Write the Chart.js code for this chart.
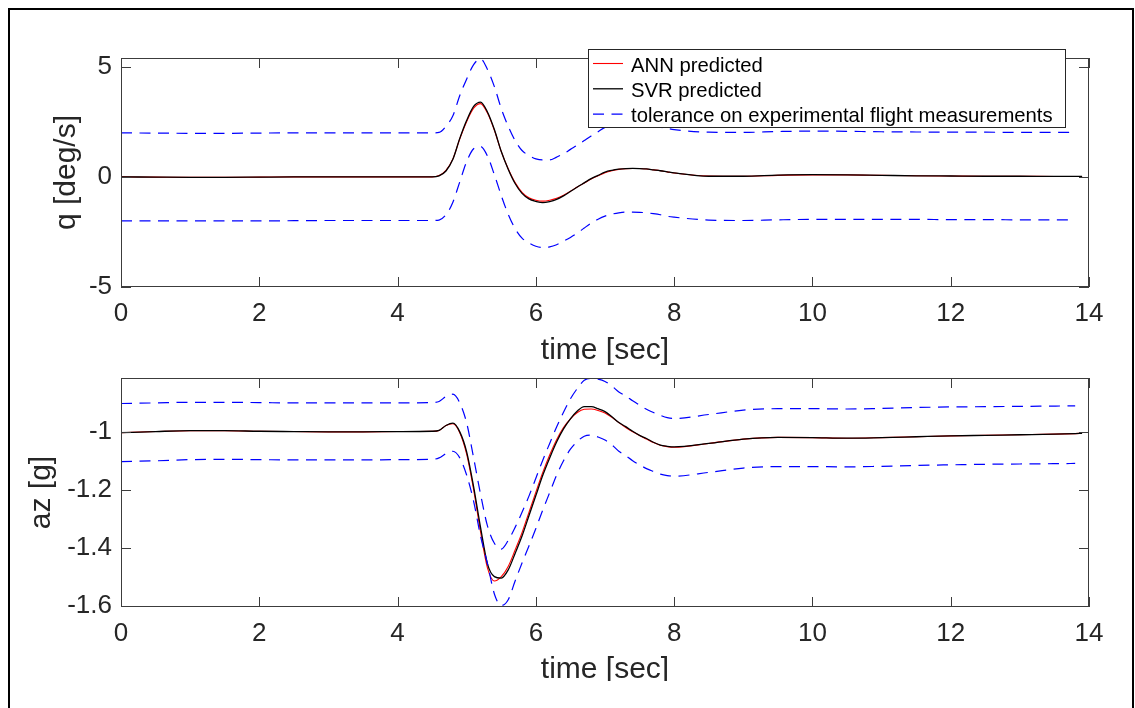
<!DOCTYPE html>
<html>
<head>
<meta charset="utf-8">
<script src="https://cdn.jsdelivr.net/npm/chart.js@4.4.1/dist/chart.umd.min.js"></script>
<style>
  html, body { margin: 0; padding: 0; background: #fff; }
  body { width: 1135px; height: 708px; overflow: hidden; position: relative; }
  canvas { position: absolute; left: 0; }
  #chart-q { top: 0; }
  #chart-az { top: 340px; }
  #frame {
    position: absolute; left: 8px; top: 8px; width: 1126px; height: 760px;
    border: 2.5px solid #000; box-sizing: border-box; pointer-events: none;
  }
</style>
</head>
<body>
<canvas id="chart-q" width="1135" height="370"></canvas>
<canvas id="chart-az" width="1135" height="341"></canvas>
<div id="frame"></div>
<script>
// time [sec]
const time = [0, 0.5, 1, 1.5, 2, 2.5, 3, 3.5, 4, 4.5,
  4.6, 4.7, 4.8, 4.9, 5.0, 5.1, 5.2, 5.3, 5.4, 5.5, 5.6, 5.7, 5.8, 5.9, 6.0, 6.1, 6.2, 6.3, 6.4, 6.5,
  6.6, 6.7, 6.8, 6.9, 7.0, 7.1, 7.2, 7.3, 7.4, 7.5, 7.6, 7.7, 7.8, 7.9, 8.0,
  8.5, 9, 9.5, 10, 10.5, 11, 11.5, 12, 12.5, 13, 13.5, 13.8, 13.9];

// q [deg/s]
const qAnn = [0, -0.01, -0.02, -0.02, -0.01, 0, 0, 0, 0, 0,
  0.06, 0.3, 0.82, 1.73, 2.52, 3.12, 3.33, 2.9, 2.12, 1.15, 0.37, -0.26, -0.7, -0.95, -1.06, -1.1, -1.06, -0.97, -0.83, -0.65,
  -0.46, -0.28, -0.1, 0.05, 0.19, 0.28, 0.34, 0.37, 0.38, 0.38, 0.36, 0.32, 0.28, 0.23, 0.18,
  0.04, 0.03, 0.07, 0.09, 0.09, 0.07, 0.05, 0.04, 0.03, 0.03, 0.02, 0.02, 0.02];
const qSvr = [0, -0.01, -0.02, -0.02, -0.01, 0, 0, 0, 0, 0,
  0.05, 0.27, 0.8, 1.75, 2.57, 3.2, 3.4, 2.95, 2.15, 1.15, 0.35, -0.3, -0.75, -1.0, -1.11, -1.17, -1.12, -1.02, -0.86, -0.66,
  -0.46, -0.27, -0.08, 0.07, 0.22, 0.3, 0.35, 0.38, 0.39, 0.38, 0.36, 0.32, 0.28, 0.23, 0.18,
  0.03, 0.03, 0.08, 0.1, 0.09, 0.07, 0.05, 0.04, 0.03, 0.03, 0.02, 0.02, 0.02];
const qTolUp = [2.0, 1.99, 1.98, 1.98, 1.99, 2.0, 2.0, 2.0, 2.0, 2.0,
  2.02, 2.3, 2.78, 3.7, 4.45, 5.1, 5.36, 4.88, 4.1, 3.1, 2.3, 1.65, 1.2, 0.97, 0.82, 0.77, 0.77, 0.9, 1.05, 1.25,
  1.44, 1.65, 1.86, 2.05, 2.25, 2.32, 2.36, 2.38, 2.39, 2.38, 2.36, 2.32, 2.26, 2.2, 2.15,
  2.03, 2.02, 2.06, 2.08, 2.07, 2.05, 2.04, 2.03, 2.03, 2.02, 2.02, 2.02, null];
const qTolLow = [-2.0, -2.0, -2.0, -2.0, -2.0, -1.99, -1.98, -1.98, -1.98, -1.98,
  -1.96, -1.72, -1.15, -0.22, 0.7, 1.28, 1.38, 0.95, 0.1, -0.85, -1.7, -2.35, -2.78, -3.0, -3.15, -3.21, -3.18, -3.08, -2.92, -2.75,
  -2.55, -2.32, -2.1, -1.92, -1.78, -1.69, -1.63, -1.6, -1.6, -1.61, -1.63, -1.67, -1.72, -1.79, -1.83,
  -1.96, -1.98, -1.95, -1.93, -1.93, -1.93, -1.93, -1.94, -1.94, -1.95, -1.95, -1.95, null];

// az [g]
const azAnn = [-1.003, -0.999, -0.996, -0.996, -0.998, -0.999, -1.0, -1.0, -0.999, -0.998,
  -0.995, -0.978, -0.972, -1.003, -1.078, -1.2, -1.345, -1.47, -1.515, -1.5, -1.465, -1.408, -1.348, -1.278, -1.208, -1.14, -1.08, -1.027, -0.985, -0.955,
  -0.933, -0.922, -0.921, -0.926, -0.935, -0.95, -0.968, -0.985, -1.0, -1.013, -1.025, -1.037, -1.046, -1.051, -1.053,
  -1.04, -1.025, -1.019, -1.02, -1.022, -1.02, -1.017, -1.014, -1.012, -1.01, -1.008, -1.006, -1.005];
const azSvr = [-1.003, -0.999, -0.996, -0.996, -0.998, -0.999, -1.0, -1.0, -0.999, -0.998,
  -0.995, -0.978, -0.97, -1.0, -1.07, -1.19, -1.33, -1.456, -1.5, -1.505, -1.477, -1.42, -1.36, -1.29, -1.22, -1.15, -1.09, -1.035, -0.99, -0.955,
  -0.928, -0.913, -0.913, -0.92, -0.93, -0.948, -0.968, -0.982, -0.998, -1.012, -1.023, -1.036, -1.046, -1.05, -1.052,
  -1.04, -1.025, -1.019, -1.02, -1.022, -1.02, -1.017, -1.014, -1.012, -1.01, -1.008, -1.006, -1.005];
const azTolUp = [-0.902, -0.9, -0.898, -0.898, -0.899, -0.9, -0.9, -0.9, -0.9, -0.899,
  -0.895, -0.878, -0.87, -0.9, -0.97, -1.09, -1.215, -1.325, -1.385, -1.405, -1.375, -1.33, -1.278, -1.222, -1.16, -1.098, -1.04, -0.983, -0.932, -0.886,
  -0.85, -0.822, -0.815, -0.818, -0.826, -0.842, -0.862, -0.876, -0.893, -0.908, -0.922, -0.933, -0.943, -0.951, -0.954,
  -0.94, -0.925, -0.92, -0.92, -0.921, -0.919, -0.916, -0.914, -0.913, -0.912, -0.911, -0.91, null];
const azTolLow = [-1.103, -1.1, -1.096, -1.095, -1.096, -1.097, -1.097, -1.097, -1.096, -1.095,
  -1.09, -1.075, -1.067, -1.09, -1.15, -1.24, -1.36, -1.455, -1.56, -1.6, -1.58, -1.515, -1.453, -1.394, -1.334, -1.27, -1.21, -1.15, -1.1, -1.06,
  -1.033, -1.015, -1.011, -1.018, -1.028, -1.045, -1.067, -1.082, -1.1, -1.114, -1.127, -1.137, -1.146, -1.151, -1.153,
  -1.14, -1.125, -1.12, -1.12, -1.121, -1.119, -1.116, -1.114, -1.112, -1.111, -1.11, -1.109, null];

const xTicks = [0, 2, 4, 6, 8, 10, 12, 14];
const qTicks = [-5, 0, 5];
const azTicks = [-1.6, -1.4, -1.2, -1];

const FONT = '"Liberation Sans", Arial, Helvetica, sans-serif';
const TXT = '#262626';
const TOL_LABEL = 'tolerance on experimental flight measurements';

const pts = arr => time.map((t, i) => ({ x: t, y: arr[i] }));

function makeDatasets(ann, svr, up, low) {
  const solid = (label, data, color, width, order) => ({
    label, data: pts(data), borderColor: color, borderWidth: width, order,
    pointRadius: 0, fill: false, cubicInterpolationMode: 'monotone',
  });
  const dashed = data => ({
    label: TOL_LABEL, data: pts(data), borderColor: '#0000ff', borderWidth: 1.2,
    borderDash: [11, 7.5], order: 1, pointRadius: 0, fill: false, cubicInterpolationMode: 'monotone',
  });
  return [
    solid('ANN predicted', ann, '#ff0000', 1.1, 3),
    solid('SVR predicted', svr, '#000000', 1.3, 2),
    dashed(up),
    dashed(low),
  ];
}

// MATLAB-like box with inward ticks on all four sides
const matlabAxes = {
  id: 'matlabAxes',
  afterDatasetsDraw(chart) {
    const { ctx, chartArea: a, scales: { x, y } } = chart;
    ctx.save();
    ctx.strokeStyle = '#3c3c3c';
    ctx.lineWidth = 1;
    ctx.beginPath();
    x.ticks.forEach(t => {
      const px = Math.round(x.getPixelForValue(t.value)) + 0.5;
      ctx.moveTo(px, a.bottom); ctx.lineTo(px, a.bottom - 10);
      ctx.moveTo(px, a.top); ctx.lineTo(px, a.top + 10);
    });
    y.ticks.forEach(t => {
      const py = Math.round(y.getPixelForValue(t.value)) + 0.5;
      ctx.moveTo(a.left, py); ctx.lineTo(a.left + 10, py);
      ctx.moveTo(a.right, py); ctx.lineTo(a.right - 10, py);
    });
    ctx.stroke();
    ctx.strokeRect(a.left + 0.5, a.top + 0.5, a.right - a.left - 1, a.bottom - a.top - 1);
    ctx.restore();
  },
};

// legend box sitting over the top edge of the q axes
const boxLegend = {
  id: 'boxLegend',
  afterDraw(chart) {
    const { ctx } = chart;
    const box = { x: 588.5, y: 49.5, w: 477, h: 78 };
    ctx.save();
    ctx.fillStyle = '#fff';
    ctx.fillRect(box.x, box.y, box.w, box.h);
    ctx.strokeStyle = '#262626';
    ctx.lineWidth = 1;
    ctx.strokeRect(box.x, box.y, box.w, box.h);
    const seen = new Set();
    let row = 0;
    chart.data.datasets.forEach(ds => {
      if (seen.has(ds.label)) return;
      seen.add(ds.label);
      const ly = 63.5 + row * 25.3;
      ctx.beginPath();
      ctx.strokeStyle = ds.borderColor;
      ctx.lineWidth = ds.borderWidth;
      ctx.setLineDash(ds.borderDash || []);
      ctx.moveTo(593, ly); ctx.lineTo(623, ly);
      ctx.stroke();
      ctx.setLineDash([]);
      ctx.fillStyle = '#000';
      ctx.font = '20.3px ' + FONT;
      ctx.textBaseline = 'alphabetic';
      ctx.textAlign = 'left';
      ctx.fillText(ds.label, 631, ly + 8.3);
      row++;
    });
    ctx.restore();
  },
};

function makeChart(id, cfg) {
  const tickFont = { family: FONT, size: 26 };
  const titleFont = { family: FONT, size: 30 };
  return new Chart(document.getElementById(id), {
    type: 'line',
    data: { datasets: cfg.datasets },
    options: {
      responsive: false,
      animation: false,
      layout: { padding: { top: cfg.padTop, right: 46, left: 0, bottom: 0 } },
      plugins: { legend: { display: false }, tooltip: { enabled: false } },
      scales: {
        x: {
          type: 'linear', min: 0, max: 14,
          afterBuildTicks: s => { s.ticks = xTicks.map(v => ({ value: v })); },
          afterFit: s => { s.height = cfg.xHeight; },
          grid: { display: false, drawTicks: false },
          border: { display: false },
          ticks: { font: tickFont, color: TXT, padding: 11.5, maxRotation: 0, autoSkip: false, callback: v => String(v) },
          title: { display: true, text: 'time [sec]', font: titleFont, color: TXT, padding: { top: 0, bottom: cfg.xTitlePad } },
        },
        y: {
          type: 'linear', min: cfg.yMin, max: cfg.yMax,
          afterBuildTicks: s => { s.ticks = cfg.yTicks.map(v => ({ value: v })); },
          afterFit: s => { s.width = 121; },
          grid: { display: false, drawTicks: false },
          border: { display: false },
          ticks: { font: tickFont, color: TXT, padding: 9, autoSkip: false, callback: v => String(v) },
          title: { display: true, text: cfg.yTitle, font: titleFont, color: TXT, padding: { top: cfg.yTitlePad, bottom: 0 } },
        },
      },
    },
    plugins: cfg.plugins,
  });
}

makeChart('chart-q', {
  datasets: makeDatasets(qAnn, qSvr, qTolUp, qTolLow),
  padTop: 58, xHeight: 83, xTitlePad: 1.7,
  yMin: -5, yMax: 5.4, yTicks: qTicks, yTitle: 'q [deg/s]', yTitlePad: 49,
  plugins: [matlabAxes, boxLegend],
});

makeChart('chart-az', {
  datasets: makeDatasets(azAnn, azSvr, azTolUp, azTolLow),
  padTop: 38, xHeight: 74, xTitlePad: -6.6,
  yMin: -1.605, yMax: -0.814, yTicks: azTicks, yTitle: 'az [g]', yTitlePad: 24,
  plugins: [matlabAxes],
});
</script>
</body>
</html>
